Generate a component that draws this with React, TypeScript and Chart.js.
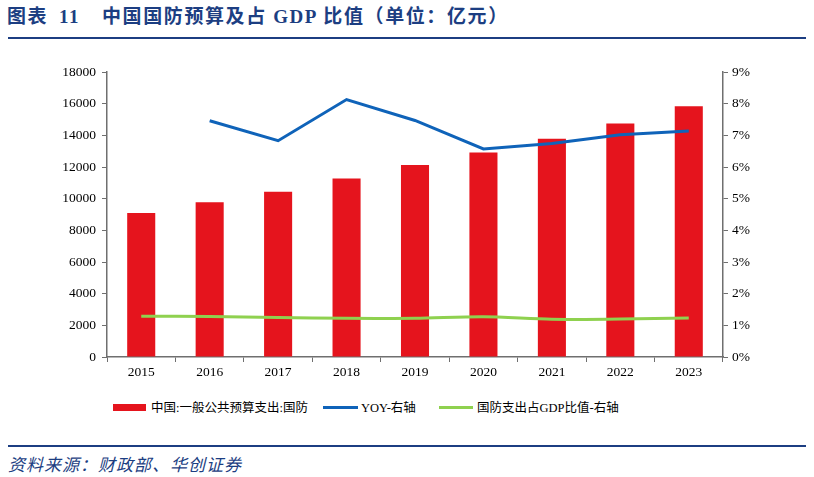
import { useEffect, useRef } from 'react';
import { Chart, registerables } from 'chart.js';

Chart.register(...registerables);

const years = ['2015', '2016', '2017', '2018', '2019', '2020', '2021', '2022', '2023'];
const defenseBudget = [9088, 9766, 10432, 11280, 12122, 12919, 13787, 14752, 15837];
const yoy = [null, 7.46, 6.83, 8.13, 7.47, 6.57, 6.74, 7.02, 7.14];
const gdpShare = [1.29, 1.28, 1.25, 1.22, 1.22, 1.27, 1.19, 1.2, 1.23];

const RED = '#e5141d';
const BLUE = '#0f63b9';
const GREEN = '#8fd14f';
const AXIS = '#6f6f6f';
const NAVY = '#1c3e82';
const tickFont = { family: '"Liberation Serif", "Times New Roman", serif', size: 13.5 };

export default function App() {
  const chartRef = useRef<HTMLCanvasElement>(null);
  const chartInstance = useRef<Chart | null>(null);

  useEffect(() => {
    const ctx = chartRef.current?.getContext('2d');
    if (!ctx) return;
    if (chartInstance.current) chartInstance.current.destroy();

    chartInstance.current = new Chart(ctx, {
      type: 'bar',
      data: {
        labels: years,
        datasets: [
          {
            type: 'line',
            label: 'YOY-右轴',
            data: yoy,
            yAxisID: 'y1',
            borderColor: BLUE,
            borderWidth: 3,
            pointRadius: 0,
            tension: 0,
            order: 0,
          },
          {
            type: 'line',
            label: '国防支出占GDP比值-右轴',
            data: gdpShare,
            yAxisID: 'y1',
            borderColor: GREEN,
            borderWidth: 3,
            pointRadius: 0,
            tension: 0.3,
            order: 1,
          },
          {
            type: 'bar',
            label: '中国:一般公共预算支出:国防',
            data: defenseBudget,
            yAxisID: 'y',
            backgroundColor: RED,
            barPercentage: 0.41,
            categoryPercentage: 1,
            order: 2,
          },
        ],
      },
      options: {
        responsive: false,
        animation: false,
        layout: { padding: { top: 22, left: 0, right: 0, bottom: 0 } },
        plugins: {
          legend: { display: false },
          tooltip: { enabled: false },
        },
        scales: {
          x: {
            offset: true,
            grid: { offset: true, drawOnChartArea: false, tickLength: 5, color: AXIS },
            border: { color: AXIS, width: 1.5 },
            ticks: { color: '#000', font: tickFont, padding: 2 },
            afterFit: (s: any) => { s.height = 33; },
          },
          y: {
            position: 'left',
            min: 0,
            max: 18000,
            ticks: {
              stepSize: 2000,
              color: '#000',
              font: tickFont,
              padding: 6,
              callback: (v: any) => String(v),
            },
            grid: { drawOnChartArea: false, tickLength: 5, color: AXIS },
            border: { color: AXIS, width: 1.5 },
            afterFit: (s: any) => { s.width = 107; },
          },
          y1: {
            position: 'right',
            min: 0,
            max: 9,
            ticks: {
              stepSize: 1,
              color: '#000',
              font: tickFont,
              padding: 4,
              callback: (v: any) => v + '%',
            },
            grid: { drawOnChartArea: false, tickLength: 5, color: AXIS },
            border: { color: AXIS, width: 1.5 },
            afterFit: (s: any) => { s.width = 91; },
          },
        },
      },
    });

    return () => {
      if (chartInstance.current) {
        chartInstance.current.destroy();
        chartInstance.current = null;
      }
    };
  }, []);

  const titleText = {
    position: 'absolute' as const,
    top: 4,
    fontFamily: '"Liberation Serif", "Noto Sans CJK SC", serif',
    fontWeight: 'bold' as const,
    fontSize: 19,
    letterSpacing: 1.6,
    color: NAVY,
    whiteSpace: 'pre' as const,
    lineHeight: '26px',
  };
  const legendText = {
    position: 'absolute' as const,
    top: 399,
    lineHeight: '18px',
    fontFamily: '"Liberation Serif", "Noto Sans CJK SC", serif',
    fontSize: 12.5,
    color: '#000',
    whiteSpace: 'pre' as const,
  };

  return (
    <div style={{ position: 'absolute', left: 0, top: 0, width: 814, height: 477, background: '#fff', overflow: 'hidden' }}>
      <div style={{ ...titleText, left: 7 }}>图表</div>
      <div style={{ ...titleText, left: 59 }}>11</div>
      <div style={{ ...titleText, left: 102 }}>中国国防预算及占 GDP 比值（单位：亿元）</div>
      <div style={{ position: 'absolute', left: 8, top: 37, width: 798, height: 2, background: NAVY }} />
      <canvas ref={chartRef} width={814} height={340} style={{ position: 'absolute', left: 0, top: 50 }} />
      <div style={{ position: 'absolute', left: 113, top: 404, width: 33, height: 7, background: RED }} />
      <div style={{ ...legendText, left: 151 }}>中国:一般公共预算支出:国防</div>
      <div style={{ position: 'absolute', left: 323, top: 406, width: 35, height: 3, background: BLUE }} />
      <div style={{ ...legendText, left: 361 }}>YOY-右轴</div>
      <div style={{ position: 'absolute', left: 439, top: 406, width: 34, height: 3, background: GREEN }} />
      <div style={{ ...legendText, left: 477 }}>国防支出占GDP比值-右轴</div>
      <div style={{ position: 'absolute', left: 8, top: 445, width: 798, height: 2, background: NAVY }} />
      <div
        style={{
          position: 'absolute',
          left: 8,
          top: 453,
          fontFamily: '"Noto Sans CJK SC", sans-serif',
          fontStyle: 'italic',
          fontSize: 17,
          letterSpacing: 1,
          color: NAVY,
          lineHeight: '22px',
        }}
      >
        资料来源：财政部、华创证券
      </div>
    </div>
  );
}
